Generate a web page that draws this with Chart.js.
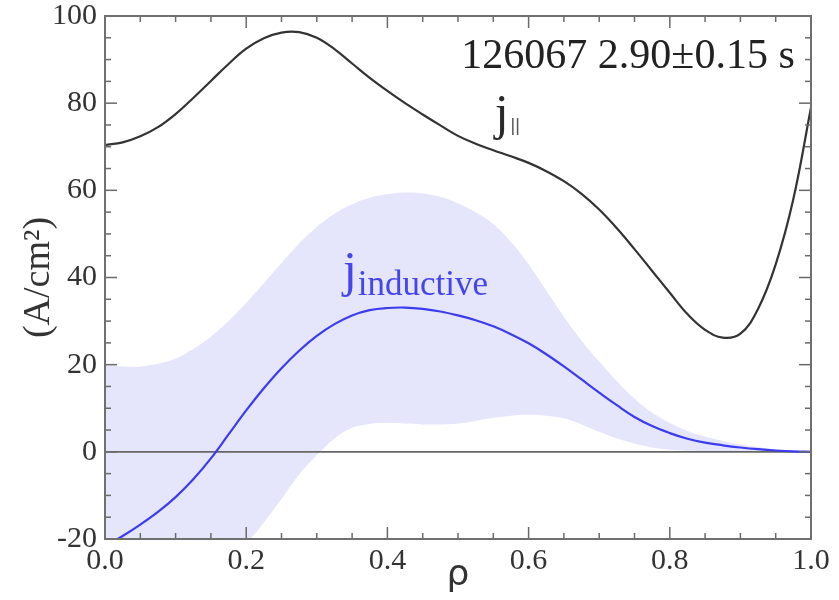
<!DOCTYPE html>
<html><head><meta charset="utf-8">
<script src="https://cdn.jsdelivr.net/npm/chart.js@4.4.1/dist/chart.umd.min.js"></script>
<style>html,body{margin:0;padding:0;background:#fff}#wrap{width:839px;height:600px}</style>
</head><body><div id="wrap"><canvas id="c" width="839" height="600"></canvas></div>
<script>
// ρ grid
const rho = [0,0.025,0.05,0.075,0.1,0.125,0.15,0.175,0.2,0.225,0.25,0.275,0.3,0.325,0.35,0.375,0.4,0.425,0.45,0.475,0.5,
  0.525,0.55,0.575,0.6,0.625,0.65,0.675,0.7,0.725,0.75,0.775,0.8,0.825,0.85,0.875,0.9,0.925,0.95,0.975,1.0];
// j_parallel (black)
const jParallel = [70.4,71.0,72.4,74.5,77.5,81.2,85.1,89.0,92.5,94.9,96.2,96.3,95.0,92.4,89.1,85.8,82.8,80.0,77.4,74.9,72.5,
  70.7,69.2,67.8,66.3,64.4,62.1,59.2,55.6,51.3,46.5,41.5,36.5,31.6,28.0,26.2,27.1,32.8,43.0,58.0,79.0];
// j_inductive (blue)
const jInductive = [-21.5,-19.3,-16.7,-13.8,-10.4,-6.3,-1.5,4.0,9.5,14.6,19.2,23.2,26.6,29.3,31.3,32.5,33.0,33.1,32.8,32.2,31.3,
  30.2,28.8,27.0,24.9,22.4,19.6,16.6,13.6,10.7,8.0,5.9,4.3,3.0,2.1,1.5,1.0,0.6,0.3,0.1,0];
// uncertainty band of j_inductive
const jIndUpper = [19.9,19.6,19.6,20.2,21.4,23.6,26.4,30.0,34.2,38.7,43.3,47.8,51.6,54.6,56.8,58.3,59.1,59.5,59.3,58.5,57.0,
  55.0,52.3,48.2,43.0,37.0,31.0,25.5,20.7,16.2,12.2,9.0,6.6,4.8,3.5,2.5,1.7,1.1,0.6,0.3,0];
const jIndLower = [-62,-58,-53,-48,-42.5,-37,-31.5,-26,-21.2,-16.2,-10.8,-5.2,-0.8,3.0,5.5,6.4,6.6,6.5,6.3,6.3,6.5,
  7.1,7.8,8.3,8.5,8.3,7.7,6.3,4.6,3.1,1.9,1.0,0.5,0.25,0.12,0.06,0.03,0.02,0.01,0,0];
const zeroLine = [0, 0];
const xTickValues = [0.0,0.2,0.4,0.6,0.8,1.0];
const yTickValues = [-20,0,20,40,60,80,100];
const xMinorPerMajor = 4;
const yMinorPerMajor = 4;

const pts = (ys) => rho.map((x, i) => ({x, y: ys[i]}));

const frameTicks = {
  id: 'frameTicks',
  afterDatasetsDraw(chart) {
    const {ctx, chartArea: {left, right, top, bottom}, scales: {x, y}} = chart;
    ctx.save();
    ctx.strokeStyle = '#6a6a6a';
    ctx.lineWidth = 1.5;
    const line = (a, b, c, d) => { ctx.beginPath(); ctx.moveTo(a, b); ctx.lineTo(c, d); ctx.stroke(); };
    for (let i = 0; i < xTickValues.length; i++) {
      const v0 = xTickValues[i];
      const step = i < xTickValues.length - 1 ? (xTickValues[i + 1] - v0) / xMinorPerMajor : 0;
      const n = i < xTickValues.length - 1 ? xMinorPerMajor : 1;
      for (let k = 0; k < n; k++) {
        const px = x.getPixelForValue(v0 + k * step);
        const L = k === 0 ? 12 : 6;
        line(px, bottom, px, bottom - L);
        line(px, top, px, top + L);
      }
    }
    for (let i = 0; i < yTickValues.length; i++) {
      const v0 = yTickValues[i];
      const step = i < yTickValues.length - 1 ? (yTickValues[i + 1] - v0) / yMinorPerMajor : 0;
      const n = i < yTickValues.length - 1 ? yMinorPerMajor : 1;
      for (let k = 0; k < n; k++) {
        const py = y.getPixelForValue(v0 + k * step);
        const L = k === 0 ? 12 : 6;
        line(left, py, left + L, py);
        line(right, py, right - L, py);
      }
    }
    ctx.lineWidth = 2;
    ctx.strokeStyle = '#707070';
    ctx.strokeRect(left, top, right - left, bottom - top);
    ctx.restore();
  },
  afterDraw(chart) {
    const {ctx, scales: {x, y}} = chart;
    ctx.save();
    ctx.textBaseline = 'alphabetic';
    // shot / time annotation
    ctx.fillStyle = '#222';
    ctx.font = '42px "Liberation Serif"';
    ctx.textAlign = 'right';
    ctx.fillText('126067 2.90\u00b10.15 s', x.getPixelForValue(0.977), y.getPixelForValue(88.1));
    // j_parallel
    ctx.textAlign = 'left';
    ctx.fillStyle = '#2a2a2a';
    ctx.font = '50px "Liberation Serif"';
    let px = x.getPixelForValue(0.552), py = y.getPixelForValue(74.0);
    ctx.fillText('j', px, py);
    px += ctx.measureText('j').width + 2;
    ctx.font = '18px "Liberation Sans"';
    ctx.fillStyle = '#555';
    ctx.fillText('||', px, py + 2);
    // j_inductive
    ctx.fillStyle = '#4545ee';
    ctx.font = '50px "Liberation Serif"';
    px = x.getPixelForValue(0.337); py = y.getPixelForValue(38.0);
    ctx.fillText('j', px, py);
    px += ctx.measureText('j').width + 1;
    ctx.font = '35px "Liberation Serif"';
    ctx.fillText('inductive', px, py + 9);
    ctx.restore();
  }
};

const lineDs = (data, color, width, order) => ({
  data, borderColor: color, borderWidth: width, pointRadius: 0, fill: false,
  tension: 0.4, order
});

new Chart(document.getElementById('c'), {
  type: 'line',
  data: {
    datasets: [
      Object.assign(lineDs(pts(jIndUpper), 'rgba(0,0,0,0)', 0, 5), {fill: 1, backgroundColor: '#e5e5fb'}),
      lineDs(pts(jIndLower), 'rgba(0,0,0,0)', 0, 4),
      lineDs([{x: xTickValues[0], y: zeroLine[0]}, {x: xTickValues[xTickValues.length - 1], y: zeroLine[1]}], '#666', 1.6, 3),
      lineDs(pts(jParallel), '#333', 2.2, 2),
      lineDs(pts(jInductive), '#3b3bef', 2.2, 1)
    ]
  },
  options: {
    responsive: false,
    animation: false,
    devicePixelRatio: 1,
    layout: {padding: {left: 0, right: 28, top: 16, bottom: 0}},
    plugins: {legend: {display: false}, tooltip: {enabled: false}},
    scales: {
      x: {
        type: 'linear', min: 0, max: 1,
        afterBuildTicks: s => { s.ticks = xTickValues.map(v => ({value: v})); },
        afterFit: s => { s.height = 61; s.paddingLeft = 0; s.paddingRight = 0; },
        grid: {display: false, drawTicks: false},
        border: {display: false},
        ticks: {callback: v => v.toFixed(1), font: {family: 'Liberation Serif', size: 30}, color: '#333', padding: 4, maxRotation: 0, autoSkip: false},
        title: {display: true, text: 'ρ', font: {family: 'DejaVu Sans', size: 36}, color: '#333', padding: {top: 0, bottom: 3}}
      },
      y: {
        type: 'linear', min: -20, max: 100,
        afterBuildTicks: s => { s.ticks = yTickValues.map(v => ({value: v})); },
        afterFit: s => { s.width = 105; s.paddingTop = 0; s.paddingBottom = 0; },
        grid: {display: false, drawTicks: false},
        border: {display: false},
        ticks: {callback: v => String(v), font: {family: 'Liberation Serif', size: 30}, color: '#333', padding: 8, autoSkip: false},
        title: {display: true, text: '(A/cm²)', font: {family: 'Liberation Serif', size: 38}, color: '#333', padding: {top: 16, bottom: 0}}
      }
    }
  },
  plugins: [frameTicks]
});
</script>
</body></html>
